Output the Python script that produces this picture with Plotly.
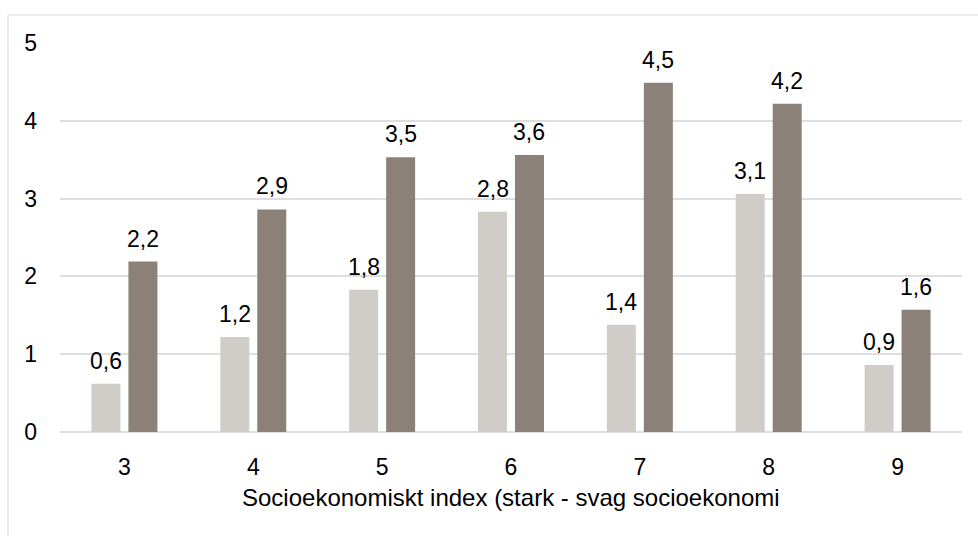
import plotly.graph_objects as go

# Socioeconomic index categories (strong -> weak)
categories = ["3", "4", "5", "6", "7", "8", "9"]
series_light = [0.62, 1.22, 1.83, 2.83, 1.38, 3.06, 0.86]
series_dark = [2.19, 2.86, 3.53, 3.56, 4.49, 4.22, 1.57]
y_ticks = [0, 1, 2, 3, 4, 5]
x_title = "Socioekonomiskt index (stark - svag socioekonomi"

COLOR_LIGHT = "#d0cdc8"
COLOR_DARK = "#8b8178"
GRID = "#dedede"
FONT = "Liberation Sans, Arial, sans-serif"
FS = 23

W, H = 978, 536
ML, MR, MT, MB = 60, 16, 43, 104
plot_w = W - ML - MR
plot_h = H - MT - MB


def fmt(v):
    return f"{v:.1f}".replace(".", ",")


fig = go.Figure()
fig.add_trace(go.Bar(x=categories, y=series_light, marker_color=COLOR_LIGHT,
                     marker_line_width=0, hoverinfo="skip", showlegend=False))
fig.add_trace(go.Bar(x=categories, y=series_dark, marker_color=COLOR_DARK,
                     marker_line_width=0, hoverinfo="skip", showlegend=False))

# value labels above each bar, shifted to the bar's slot within its group
slot = plot_w / len(categories) * (1 - 0.426) / 2
for vals, shift in ((series_light, -slot / 2), (series_dark, slot / 2)):
    for i, v in enumerate(vals):
        fig.add_annotation(x=i, y=v, text=fmt(v), showarrow=False,
                           xshift=shift, yshift=8, yanchor="bottom",
                           font=dict(family=FONT, size=FS, color="#000000"))

# x-axis title, centred under the plot area
fig.add_annotation(xref="paper", yref="paper", x=0.5, y=-(497 - (H - MB)) / plot_h,
                   xanchor="center", yanchor="middle", showarrow=False,
                   text=x_title, font=dict(family=FONT, size=24, color="#000000"))

# light outer frame of the chart area
fig.add_shape(type="rect", xref="paper", yref="paper",
              x0=(8 - ML) / plot_w, x1=2.0,
              y0=-2.0, y1=(H - MB - 15) / plot_h,
              line=dict(color="#d9d9d9", width=1), fillcolor="rgba(0,0,0,0)",
              layer="below")

fig.update_layout(
    width=W, height=H,
    margin=dict(l=ML, r=MR, t=MT, b=MB, pad=0),
    paper_bgcolor="white", plot_bgcolor="white",
    barmode="group", bargap=0.426, bargroupgap=0.216,
    font=dict(family=FONT, size=FS, color="#000000"),
    xaxis=dict(
        type="category", showgrid=False, zeroline=False,
        showline=False, ticks="", ticklabelstandoff=19,
        range=[-0.5, len(categories) - 0.5],
        tickfont=dict(family=FONT, size=FS, color="#000000"),
    ),
    yaxis=dict(
        range=[0, 5], tickvals=y_ticks, ticktext=[str(t) for t in y_ticks],
        showgrid=True, gridcolor=GRID, gridwidth=1.5,
        zeroline=True, zerolinecolor=GRID, zerolinewidth=1.5,
        showline=False, ticks="", ticklabelstandoff=22,
        tickfont=dict(family=FONT, size=FS, color="#000000"),
    ),
)

fig.write_html("out.html")
